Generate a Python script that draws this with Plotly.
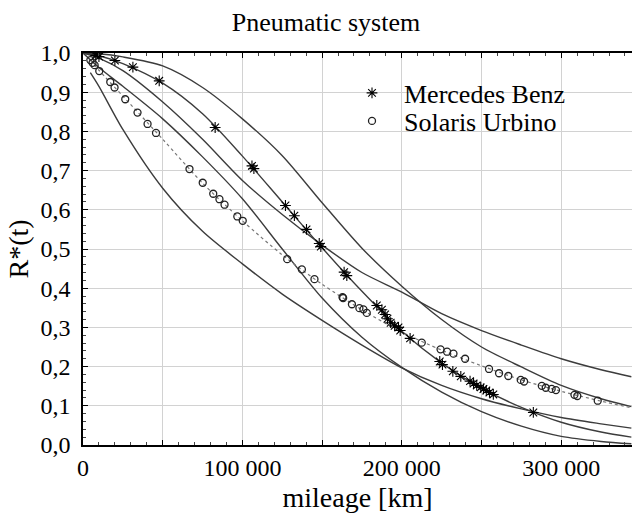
import plotly.graph_objects as go

# ---------------- data ----------------
mercedes_km = [8000, 9200, 10000, 20000, 31300, 47800, 82900, 106000, 107200, 127000,
               132600, 140200, 148200, 149200, 163800, 165500, 184300, 187500, 189500,
               191000, 193000, 195500, 197900, 199000, 205200, 223800, 225500, 232000,
               237000, 242800, 245000, 247000, 249500, 251200, 253000, 255000, 257400, 282500]
mercedes_r = [0.994, 0.998, 0.991, 0.981, 0.964, 0.929, 0.810, 0.712, 0.705, 0.611,
              0.585, 0.550, 0.514, 0.506, 0.441, 0.432, 0.356, 0.345, 0.333,
              0.322, 0.312, 0.304, 0.300, 0.292, 0.272, 0.213, 0.205, 0.188,
              0.175, 0.163, 0.157, 0.152, 0.147, 0.143, 0.139, 0.134, 0.129, 0.083]

solaris_km = [4600, 6000, 7300, 10200, 17100, 19800, 26500, 34200, 40500, 45800, 66800,
              75100, 81700, 85600, 88800, 96800, 100200, 128100, 137300, 145200, 162800,
              163200, 168700, 173400, 175900, 178000, 212500, 224300, 228400, 232400,
              239700, 254700, 261000, 266800, 274600, 276700, 287800, 290300, 294000,
              296700, 308300, 310100, 322900]
solaris_r = [0.982, 0.975, 0.969, 0.954, 0.926, 0.912, 0.882, 0.848, 0.819, 0.796, 0.704,
             0.669, 0.641, 0.627, 0.613, 0.583, 0.572, 0.474, 0.448, 0.423, 0.377,
             0.375, 0.359, 0.349, 0.346, 0.337, 0.261, 0.244, 0.238, 0.233,
             0.220, 0.194, 0.183, 0.176, 0.166, 0.162, 0.151, 0.146, 0.143,
             0.140, 0.128, 0.125, 0.113]

# curves (at these mileages)
curve_km = [0, 10000, 25000, 50000, 75000, 100000, 125000, 150000, 175000, 200000,
            225000, 250000, 275000, 300000, 325000, 344000]
curve_upper = [1.0, 0.998, 0.990, 0.967, 0.912, 0.832, 0.738, 0.618, 0.502, 0.405,
               0.320, 0.250, 0.199, 0.152, 0.118, 0.098]
curve_mercedes = [1.0, 0.993, 0.973, 0.923, 0.845, 0.737, 0.620, 0.503, 0.392, 0.290,
                  0.209, 0.145, 0.096, 0.058, 0.033, 0.020]
curve_flat = [1.0, 0.987, 0.955, 0.875, 0.780, 0.675, 0.588, 0.510, 0.440, 0.390,
              0.335, 0.292, 0.255, 0.220, 0.192, 0.174]
curve_steep = [1.0, 0.963, 0.915, 0.832, 0.735, 0.628, 0.500, 0.375, 0.275, 0.198,
               0.135, 0.085, 0.048, 0.022, 0.009, 0.003]

curve2_km = [4600, 10000, 25000, 50000, 75000, 100000, 125000, 150000, 175000, 200000,
             225000, 250000, 275000, 300000, 325000, 344000]
curve_lower = [0.950, 0.915, 0.805, 0.655, 0.545, 0.462, 0.385, 0.318, 0.255, 0.197,
               0.152, 0.118, 0.092, 0.070, 0.054, 0.043]
curve_solaris = [0.982, 0.956, 0.890, 0.780, 0.668, 0.572, 0.485, 0.410, 0.345, 0.288,
                 0.242, 0.202, 0.166, 0.137, 0.112, 0.095]

x_ticks = [0, 50000, 100000, 150000, 200000, 250000, 300000, 350000]
x_labels = ["0", "", "100 000", "", "200 000", "", "300 000", ""]
y_ticks = [0.0, 0.1, 0.2, 0.3, 0.4, 0.5, 0.6, 0.7, 0.8, 0.9, 1.0]
y_labels = ["0,0", "0,1", "0,2", "0,3", "0,4", "0,5", "0,6", "0,7", "0,8", "0,9", "1,0"]

FONT = "Liberation Serif"
LINE = "#3c3c3c"

fig = go.Figure()

for ys in [curve_upper, curve_mercedes, curve_flat, curve_steep]:
    fig.add_trace(go.Scatter(x=curve_km, y=ys, mode="lines", showlegend=False,
                             line=dict(color=LINE, width=1.4, shape="spline", smoothing=0.8),
                             hoverinfo="skip"))
fig.add_trace(go.Scatter(x=curve2_km, y=curve_lower, mode="lines", showlegend=False,
                         line=dict(color=LINE, width=1.4, shape="spline", smoothing=0.8),
                         hoverinfo="skip"))
fig.add_trace(go.Scatter(x=curve2_km, y=curve_solaris, mode="lines", showlegend=False,
                         line=dict(color="#777777", width=1.2, dash="3px,3px",
                                   shape="spline", smoothing=0.8),
                         hoverinfo="skip"))

fig.add_trace(go.Scatter(x=mercedes_km, y=mercedes_r, mode="markers", name="Mercedes Benz",
                         marker=dict(symbol="asterisk-open", size=9, color="black",
                                     line=dict(color="black", width=1.1)),
                         legend="legend"))
fig.add_trace(go.Scatter(x=solaris_km, y=solaris_r, mode="markers", name="Solaris Urbino",
                         marker=dict(symbol="circle-open", size=7, color="#222222",
                                     line=dict(color="#222222", width=1.3)),
                         legend="legend2"))

PL, PT, PB = 83, 53, 70
W, H = 632, 515
pw, ph = W - PL, H - PT - PB

def lx(px):
    return (px - PL) / pw

def ly(py):
    return (H - PB - py) / ph

leg_common = dict(font=dict(family=FONT, size=26, color="black"), bgcolor="rgba(0,0,0,0)",
                  xanchor="left", yanchor="middle", itemwidth=54)
fig.update_layout(
    legend=dict(x=lx(340), y=ly(93), **leg_common),
    legend2=dict(x=lx(340), y=ly(121), **leg_common),
)

fig.update_layout(
    width=W, height=H,
    margin=dict(l=PL, r=0, t=PT, b=PB, pad=0),
    paper_bgcolor="white", plot_bgcolor="white",
    font=dict(family=FONT, color="black"),
    title=dict(text="Pneumatic system", x=326 / W, xref="container", xanchor="center",
               y=1 - 22 / H, yref="container", yanchor="middle",
               font=dict(family=FONT, size=26, color="black")),
    xaxis=dict(range=[0, 344400], tickmode="array", tickvals=x_ticks, ticktext=x_labels,
               showgrid=True, gridcolor="#d2d2d2", gridwidth=1, zeroline=False,
               showline=True, linecolor="black", linewidth=1.5, mirror="ticks",
               ticks="inside", ticklen=5, tickcolor="black",
               minor=dict(dtick=10000, ticks="inside", ticklen=3, tickcolor="#444", showgrid=False),
               tickfont=dict(family=FONT, size=24, color="black"),
               title=dict(text="mileage [km]", font=dict(family=FONT, size=28, color="black"),
                          standoff=8)),
    yaxis=dict(range=[0, 1.0], tickmode="array", tickvals=y_ticks, ticktext=y_labels,
               showgrid=True, gridcolor="#d2d2d2", gridwidth=1, zeroline=False,
               showline=True, linecolor="black", linewidth=1.5,
               ticks="inside", ticklen=5, tickcolor="black", ticklabelstandoff=6,
               minor=dict(dtick=0.02, ticks="inside", ticklen=3, tickcolor="#444", showgrid=False),
               tickfont=dict(family=FONT, size=24, color="black"),
               title=dict(text="R*(t)", font=dict(family=FONT, size=28, color="black"),
                          standoff=4)),
)

fig.write_html("out.html")
